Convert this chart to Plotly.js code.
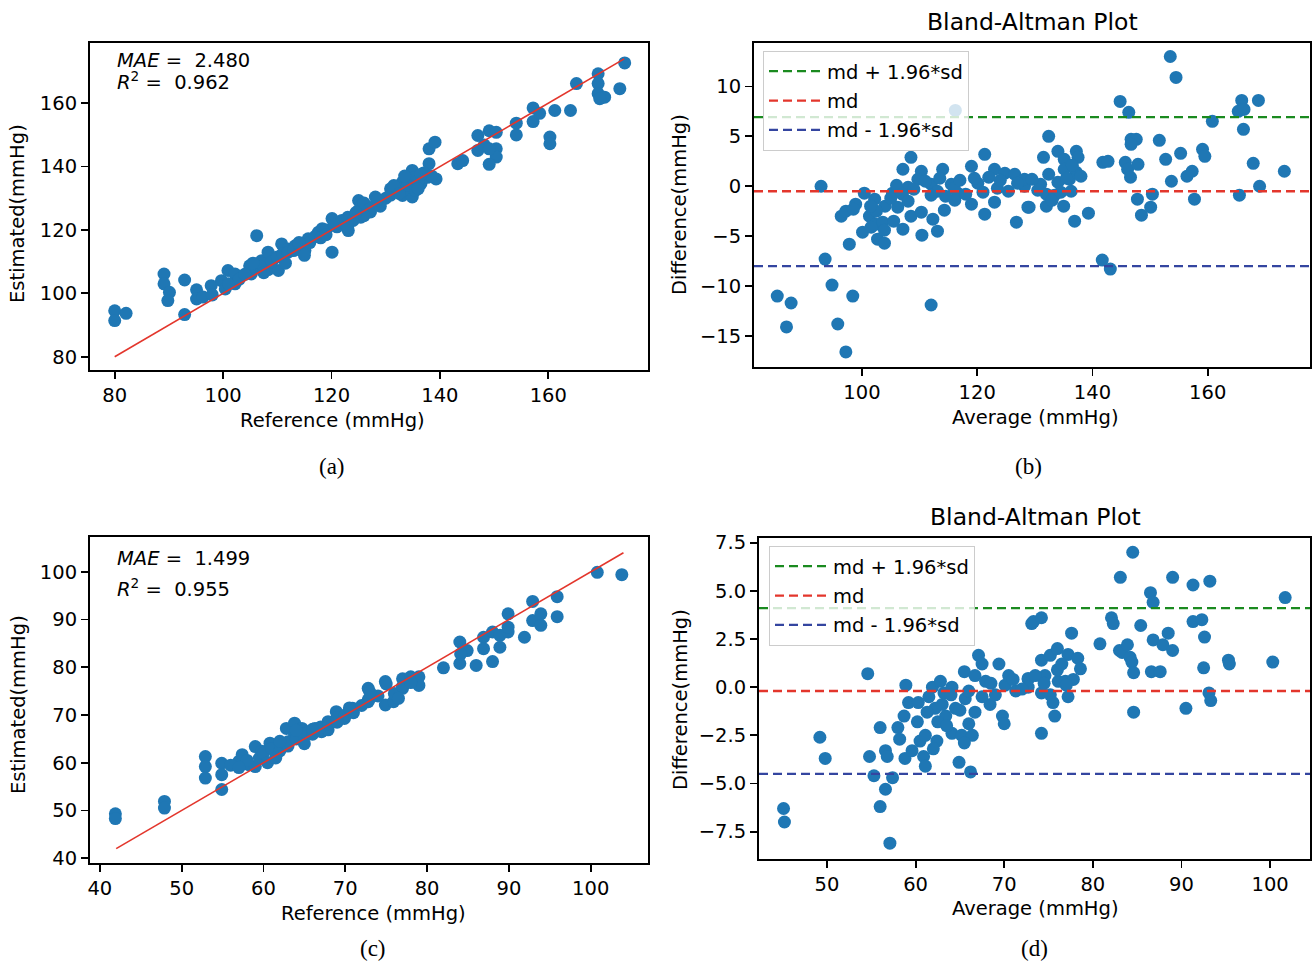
<!DOCTYPE html>
<html>
<head>
<meta charset="utf-8">
<script src="https://cdn.plot.ly/plotly-3.0.1.min.js"></script>
<style>html,body{margin:0;padding:0;background:#fff;}#chart{width:1313px;height:965px;}</style>
</head>
<body>
<div id="chart"></div>
<script>
// ---------- Panel (a): Estimated vs Reference (systolic) ----------
const refA = [80.0,80.0,82.1,89.1,89.1,90.1,89.8,92.9,92.9,95.1,95.1,96.3,97.8,99.7,100.9,102.2,100.4,102.2,104.9,105.2,
  106.2,107.1,108.3,108.3,110.2,110.8,112.0,113.3,115.1,115.7,117.6,118.3,120.1,120.1,121.9,123.1,125.0,125.0,125.5,125.4,
  127.2,128.1,128.1,130.9,130.9,133.1,133.1,134.9,134.9,136.5,138.0,138.0,139.1,139.3,137.7,134.0,132.2,143.3,144.2,147.0,
  147.0,148.2,149.1,150.4,150.4,150.4,149.1,149.1,154.1,154.1,157.2,157.2,158.4,160.3,160.3,161.2,164.1,165.2,169.2,169.2,
  169.2,170.4,169.5,173.2,174.1,
  98.0,101.0,103.0,104.0,106.0,107.0,109.0,110.0,111.0,112.0,113.0,114.0,116.0,117.0,118.0,119.0,121.0,122.0,123.0,124.0,
  126.0,127.0,129.0,130.0,131.0,132.0,133.0,134.0,135.0,136.0,137.0,135.5,138.5,136.0,107.5,111.5,105.5,115.0,119.0,123.0,
  126.0,129.0,131.5,133.5,114.0,120.5,124.5,128.5,132.5,136.5];
const estA = [94.5,91.4,93.7,106.1,103.0,100.3,97.7,104.2,93.3,101.1,98.2,98.8,102.4,104.0,107.2,106.1,101.4,103.0,108.7,106.1,
  118.2,110.3,113.0,107.5,107.2,115.6,114.0,115.0,113.5,117.2,119.3,120.4,123.6,113.0,123.0,119.8,129.3,126.2,127.5,124.0,
  125.7,130.4,127.9,133.0,131.0,135.1,130.9,138.8,130.4,134.6,140.9,145.6,147.7,136.1,136.6,133.5,132.5,140.9,141.9,149.8,
  145.1,146.8,151.3,150.8,145.6,143.0,140.7,145.6,153.7,150.0,158.5,154.2,156.8,149.3,147.2,157.7,157.7,166.2,169.3,166.2,
  163.0,161.9,161.4,164.6,172.7,
  99.5,103.0,104.5,106.0,108.0,108.5,110.0,111.5,112.5,113.0,113.5,115.5,116.0,118.0,117.5,120.0,121.0,122.5,124.0,123.0,
  128.5,126.5,129.0,130.0,132.0,133.5,132.0,134.0,136.5,135.5,138.0,132.5,137.0,133.0,106.5,109.5,109.5,112.0,118.5,121.0,
  124.5,127.5,134.0,137.0,116.0,121.5,125.5,129.5,131.5,137.5];
const fitA = [80, 174];
const metricsA = {mae: '2.480', r2: '0.962'};

// ---------- Panel (b): Bland-Altman (systolic) ----------
const avgB = [85.3,87.7,86.9,92.9,93.6,94.8,95.8,97.2,98.4,97.8,96.4,97.2,98.9,100.1,100.4,101.3,102.2,102.4,102.7,103.9,
  103.6,103.9,101.6,105.3,107.1,107.1,108.5,110.3,109.7,108.0,106.2,108.5,110.3,110.4,112.0,112.3,113.1,114.0,114.3,115.5,
  116.2,116.6,116.1,119.0,119.0,121.3,121.3,120.1,123.0,123.0,124.8,125.4,126.8,126.5,128.2,128.8,112.0,113.1,
  128.2,129.0,131.0,131.5,132.0,132.0,132.4,132.4,133.4,134.0,134.0,135.0,135.1,135.1,136.3,136.9,137.2,137.5,137.2,136.0,
  139.3,141.7,143.1,141.8,142.7,144.8,146.3,145.7,146.1,146.6,146.7,147.6,146.7,147.9,147.8,148.5,150.1,150.4,151.6,152.7,
  153.5,154.5,153.7,155.3,156.4,157.3,157.7,159.1,159.5,160.8,165.5,165.3,165.9,166.3,166.2,167.9,168.8,169.0,173.3,
  104.0,105.0,106.0,107.0,108.0,109.0,111.0,112.0,113.5,114.5,116.0,117.0,118.0,119.5,121.0,122.0,123.5,124.0,127.0,129.5,
  130.5,133.0,134.5,135.5,136.5,138.0,102.5,101.5,98.5,105.5];
const diffB = [-11.0,-11.7,-14.1,0.0,-7.3,-9.9,-13.8,-16.6,-11.0,-5.8,-3.0,-2.5,-1.8,-4.6,-0.7,-3.0,-1.3,-3.8,-5.3,-5.7,
  -3.6,-4.4,-4.1,-0.7,1.7,-4.3,2.9,1.5,0.7,-0.1,-2.1,-3.0,-2.6,-4.9,-11.9,-3.3,-4.5,1.7,-2.4,0.2,
  7.6,-0.7,-1.4,2.0,-1.8,3.2,-2.8,0.3,1.7,-1.6,1.3,-0.5,-3.6,1.2,0.0,-2.1,0.2,-0.5,
  0.7,-2.1,0.2,2.9,-0.8,-2.0,5.0,1.2,-0.9,3.5,0.4,-2.0,2.7,1.7,-0.5,-3.5,3.5,2.9,1.4,0.7,
  -2.7,-7.4,-8.3,2.4,2.5,8.5,7.4,2.4,1.7,0.9,4.7,4.7,4.2,2.2,-1.3,-2.9,-2.1,-0.8,4.6,2.7,
  13.0,10.9,0.5,3.3,1.0,1.5,-1.3,3.7,3.0,6.5,-0.9,7.5,8.6,7.7,5.7,2.3,8.6,0.0,1.5,
  -2.0,-1.2,0.1,-0.8,-1.5,-0.3,0.5,-0.9,0.8,-1.0,-0.2,0.6,-0.8,0.8,-0.6,0.9,-0.2,0.6,0.3,0.7,
  -0.4,-1.4,-0.6,0.8,2.1,1.0,-2.5,-2.0,-2.3,-3.5];
const limitsB = {upper: 6.93, md: -0.5, lower: -8.0};

// ---------- Panel (c): Estimated vs Reference (diastolic) ----------
const refC = [41.9,41.9,47.9,47.9,52.9,52.9,52.9,54.9,54.9,54.9,57.0,57.4,58.2,59.0,59.0,59.8,60.8,61.4,62.0,62.8,
  63.0,63.8,63.8,64.7,65.5,66.3,67.1,67.9,67.9,68.9,69.9,70.9,72.8,72.8,
  72.8,74.9,74.9,75.9,77.0,77.0,78.0,79.0,79.0,82.0,84.0,84.0,84.9,84.1,86.0,86.9,86.9,88.0,88.0,88.9,
  88.9,89.9,89.9,89.9,91.9,92.9,92.9,93.9,93.9,95.9,95.9,100.8,103.8,
  58.0,59.5,60.0,61.0,62.0,63.0,64.0,65.0,66.0,67.0,68.0,69.0,70.0,71.0,72.0,73.0,74.0,76.0,77.0,78.0,
  56.0,57.0,60.5,62.0,64.0,66.0,69.0,73.0,75.0,78.0,61.5,65.0,70.5,76.5];
const estC = [49.3,48.3,51.9,50.5,61.3,59.2,56.8,59.9,57.5,54.4,60.3,61.7,59.6,59.2,63.4,62.4,64.1,62.4,63.1,67.2,
  64.4,68.3,65.8,67.2,66.5,67.2,66.5,68.6,66.9,70.7,69.3,71.4,75.6,73.2,
  72.8,77.0,72.1,72.8,77.6,75.6,78.0,78.0,76.2,79.9,85.3,80.8,83.5,82.8,80.4,86.3,83.9,87.4,81.2,86.7,
  84.2,91.2,87.4,88.4,86.3,93.8,89.8,91.2,88.8,94.8,90.6,99.9,99.4,
  60.5,61.0,62.0,63.0,62.5,63.5,65.0,65.5,66.0,67.5,68.0,69.5,70.0,70.5,72.0,73.5,74.0,74.5,76.0,77.0,
  59.5,59.0,60.0,64.5,66.8,67.0,68.5,74.8,76.5,76.8,61.0,64.0,71.5,73.5];
const fitC = [42, 104];
const metricsC = {mae: '1.499', r2: '0.955'};

// ---------- Panel (d): Bland-Altman (diastolic) ----------
const avgD = [45.1,45.2,49.2,49.8,54.6,54.8,55.3,56.0,56.6,56.8,56.6,56.0,57.4,57.1,58.0,58.2,58.8,58.9,59.2,58.7,
  59.6,60.3,60.5,60.9,61.1,61.1,61.9,62.2,62.4,62.8,63.2,63.4,64.1,64.1,64.5,64.9,65.2,65.5,65.6,66.2,
  66.4,66.0,66.7,66.7,67.1,67.5,67.9,68.4,69.4,69.8,70.0,70.1,70.5,71.3,72.7,73.1,
  72.7,72.7,73.3,74.2,74.2,74.2,74.2,74.6,75.2,75.2,75.7,76.0,76.1,76.9,77.2,77.2,77.6,77.8,78.3,78.6,
  80.8,82.1,82.3,83.1,83.0,83.3,83.9,84.2,84.4,84.6,84.6,84.5,85.4,86.5,86.8,86.8,86.6,87.6,87.9,88.5,
  89.0,89.0,90.5,91.3,91.3,92.3,92.6,92.5,93.2,93.1,93.3,95.3,95.4,100.3,101.7,
  61.5,62.5,63.0,64.0,65.0,66.0,67.5,68.5,69.0,71.0,72.0,73.5,74.5,76.0,77.0,75.5,76.5,63.5,65.5,62.0,
  60.2,61.3];
const diffD = [-6.3,-7.0,-2.6,-3.7,0.7,-3.6,-4.6,-2.1,-3.3,-3.6,-5.3,-6.2,-4.7,-8.1,-2.1,-2.7,-3.7,0.1,-0.8,-1.5,
  -3.3,-0.8,-2.8,-3.6,-4.1,-2.5,0.0,-1.1,-2.8,0.3,-0.3,-1.5,0.0,-2.4,-1.1,-3.9,-2.5,0.8,-0.6,-4.4,
  -2.5,-1.9,0.6,-1.3,1.65,1.2,0.3,-0.9,1.2,-1.5,-1.9,0.1,0.6,-0.2,0.4,3.3,
  0.45,0.0,3.4,3.6,1.4,-0.3,-2.4,0.6,1.65,-0.4,-1.5,2.0,0.3,0.3,1.7,-0.5,2.8,0.4,1.5,0.95,
  2.25,3.6,3.3,5.7,1.9,1.8,2.2,1.55,1.3,0.75,-1.3,7.0,3.2,4.9,4.4,2.45,0.8,0.8,2.2,2.8,
  5.7,1.9,-1.1,5.3,3.4,3.5,2.6,1.0,5.5,-0.3,-0.7,1.4,1.2,1.3,4.65,
  -0.5,-1.8,-0.9,-0.4,-1.2,-0.2,-0.5,0.2,-0.4,0.4,-0.1,0.6,0.2,0.9,0.1,-0.8,1.2,-2.0,-2.9,-3.2,
  -1.8,-1.3];
const limitsD = {upper: 4.1, md: -0.2, lower: -4.5};

const tickA_x = [80,100,120,140,160], tickA_y = [80,100,120,140,160];
const tickB_x = [100,120,140,160], tickB_y = [-15,-10,-5,0,5,10];
const tickC_x = [40,50,60,70,80,90,100], tickC_y = [40,50,60,70,80,90,100];
const tickD_x = [50,60,70,80,90,100], tickD_y = [-7.5,-5,-2.5,0,2.5,5,7.5];

// ---------- drawing ----------
const W = 1313, H = 965;
const px = v => v / W, py = v => 1 - v / H;
const FONT = 'DejaVu Sans';
const BLUE = '#1f77b4';
const GREEN = '#1a8a1f', RED = '#e3362c', NAVY = '#3445a0';

const mk = (x, y, xa, ya) => ({type:'scatter', mode:'markers', x, y, xaxis:xa, yaxis:ya,
  marker:{color:BLUE, size:13, line:{width:0}}, showlegend:false, hoverinfo:'skip'});
const ln = (x, xa, ya) => ({type:'scatter', mode:'lines', x, y:x, xaxis:xa, yaxis:ya,
  line:{color:RED, width:1.6}, showlegend:false, hoverinfo:'skip'});

const traces = [
  mk(refA, estA, 'x', 'y'), ln(fitA, 'x', 'y'),
  mk(avgB, diffB, 'x2', 'y2'),
  mk(refC, estC, 'x3', 'y3'), ln(fitC, 'x3', 'y3'),
  mk(avgD, diffD, 'x4', 'y4')
];

function ax(extra) {
  return Object.assign({showline:true, mirror:true, linecolor:'#000', linewidth:2,
    ticks:'outside', ticklen:7, tickwidth:1.8, tickcolor:'#000', showgrid:false, zeroline:false,
    tickfont:{family:FONT, size:19.5, color:'#000'}, tickmode:'array', fixedrange:true}, extra);
}

function hline(xa, ya, yv, color, name, legend, rank) {
  return {type:'line', xref:xa + ' domain', yref:ya, x0:0, x1:1, y0:yv, y1:yv,
    line:{color, width:2.3, dash:'9px,5px'}, layer:'above',
    showlegend:true, name, legend, legendrank:rank, legendgroup:legend + '_' + rank};
}
const shapes = [
  hline('x2','y2', limitsB.upper, GREEN, 'md + 1.96*sd', 'legend', 1),
  hline('x2','y2', limitsB.md, RED, 'md', 'legend', 2),
  hline('x2','y2', limitsB.lower, NAVY, 'md - 1.96*sd', 'legend', 3),
  hline('x4','y4', limitsD.upper, GREEN, 'md + 1.96*sd', 'legend2', 1),
  hline('x4','y4', limitsD.md, RED, 'md', 'legend2', 2),
  hline('x4','y4', limitsD.lower, NAVY, 'md - 1.96*sd', 'legend2', 3)
];

const ann = (text, x, y, opts) => Object.assign({text, xref:'paper', yref:'paper', x:px(x), y:py(y),
  xanchor:'center', yanchor:'middle', showarrow:false, font:{family:FONT, size:19.5, color:'#000'}}, opts || {});
const serif = {family:'Liberation Serif', size:23, color:'#000'};
const annotations = [
  ann('<i>MAE</i> =  ' + metricsA.mae, 115, 60, {xanchor:'left'}),
  ann('<i>R</i><sup>2</sup> =  ' + metricsA.r2, 115, 81, {xanchor:'left'}),
  ann('<i>MAE</i> =  ' + metricsC.mae, 115, 558, {xanchor:'left'}),
  ann('<i>R</i><sup>2</sup> =  ' + metricsC.r2, 115, 588, {xanchor:'left'}),
  ann('Reference (mmHg)', 332, 420),
  ann('Estimated(mmHg)', 18, 214, {textangle:-90}),
  ann('Average (mmHg)', 1035, 417),
  ann('Difference(mmHg)', 680, 205, {textangle:-90}),
  ann('Reference (mmHg)', 373, 913),
  ann('Estimated(mmHg)', 18, 705, {textangle:-90}),
  ann('Average (mmHg)', 1035, 908),
  ann('Difference(mmHg)', 680, 700, {textangle:-90}),
  ann('Bland-Altman Plot', 1032, 22, {font:{family:FONT, size:23.5, color:'#000'}}),
  ann('Bland-Altman Plot', 1035, 517, {font:{family:FONT, size:23.5, color:'#000'}}),
  ann('(a)', 332, 466, {font:serif}),
  ann('(b)', 1028, 466, {font:serif}),
  ann('(c)', 373, 948, {font:serif}),
  ann('(d)', 1034, 948, {font:serif})
];

const legendStyle = (x, y) => ({x:px(x), y:py(y), xanchor:'left', yanchor:'top',
  bgcolor:'rgba(255,255,255,0.8)', bordercolor:'#cccccc', borderwidth:1,
  font:{family:FONT, size:19.5, color:'#000'}, tracegroupgap:1, traceorder:'grouped', itemwidth:53});

const layout = {
  width:W, height:H, margin:{l:0, r:0, t:0, b:0}, paper_bgcolor:'#fff', plot_bgcolor:'#fff',
  showlegend:true,
  xaxis: ax({domain:[px(90), px(648)], range:[75.44, 178.4], tickvals:tickA_x, anchor:'y'}),
  yaxis: ax({domain:[py(370), py(43)], range:[75.8, 179.0], tickvals:tickA_y, anchor:'x'}),
  xaxis2: ax({domain:[px(754), px(1310)], range:[81.26, 177.75], tickvals:tickB_x, anchor:'y2'}),
  yaxis2: ax({domain:[py(367), py(43)], range:[-18.11, 14.35], tickvals:tickB_y, anchor:'x2'}),
  xaxis3: ax({domain:[px(90), px(648)], range:[38.8, 107.0], tickvals:tickC_x, anchor:'y3'}),
  yaxis3: ax({domain:[py(863), py(537)], range:[39.0, 107.3], tickvals:tickC_y, anchor:'x3'}),
  xaxis4: ax({domain:[px(759), px(1310)], range:[42.33, 104.5], tickvals:tickD_x, anchor:'y4'}),
  yaxis4: ax({domain:[py(859), py(538)], range:[-8.92, 7.74], tickvals:tickD_y, tickformat:'.1f', anchor:'x4'}),
  legend: legendStyle(763, 51),
  legend2: legendStyle(769, 546),
  shapes, annotations
};

Plotly.newPlot('chart', traces, layout, {staticPlot:true, displayModeBar:false});
</script>
</body>
</html>
